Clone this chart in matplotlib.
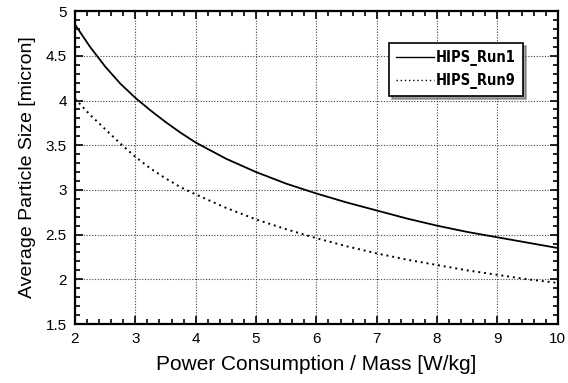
import matplotlib
matplotlib.use('Agg')
import matplotlib.pyplot as plt
from matplotlib.ticker import MultipleLocator, FormatStrFormatter

plt.rcParams['font.family'] = ['Liberation Sans', 'DejaVu Sans']

# Power consumption per unit mass [W/kg]
power = [2.0, 2.25, 2.5, 2.75, 3.0, 3.25, 3.5, 3.75, 4.0, 4.5, 5.0, 5.5, 6.0,
         6.5, 7.0, 7.5, 8.0, 8.5, 9.0, 9.5, 10.0]
# Average particle size [micron]
run1 = [4.85, 4.60, 4.38, 4.19, 4.03, 3.89, 3.76, 3.64, 3.53, 3.35, 3.20, 3.07, 2.96,
        2.86, 2.77, 2.68, 2.60, 2.53, 2.47, 2.41, 2.35]
run9 = [4.02, 3.84, 3.68, 3.52, 3.37, 3.24, 3.13, 3.03, 2.95, 2.80, 2.67, 2.56, 2.46,
        2.37, 2.29, 2.22, 2.16, 2.10, 2.05, 2.00, 1.96]

fig = plt.figure(figsize=(5.68, 3.83), dpi=100)
ax = fig.add_axes([0.132, 0.154, 0.850, 0.817])

ax.plot(power, run1, color='black', linewidth=1.3, linestyle='-', label='HIPS_Run1')
ax.plot(power, run9, color='black', linewidth=1.4, linestyle=(0, (1, 2)), label='HIPS_Run9')

ax.set_xlim(2, 10)
ax.set_ylim(1.5, 5)
ax.xaxis.set_major_locator(MultipleLocator(1))
ax.xaxis.set_minor_locator(MultipleLocator(0.2))
ax.yaxis.set_major_locator(MultipleLocator(0.5))
ax.yaxis.set_minor_locator(MultipleLocator(0.1))
ax.xaxis.set_major_formatter(FormatStrFormatter('%g'))
ax.yaxis.set_major_formatter(FormatStrFormatter('%g'))

ax.tick_params(which='both', direction='in', top=True, right=True, labelsize=11, width=1.2)
ax.tick_params(which='major', length=6, pad=6)
ax.tick_params(which='minor', length=3.5)

ax.grid(True, which='major', color='#444444', linestyle=(0, (1, 1.5)), linewidth=0.8)
for spine in ax.spines.values():
    spine.set_linewidth(1.6)

ax.set_xlabel('Power Consumption / Mass [W/kg]', fontsize=15, labelpad=6)
ax.set_ylabel('Average Particle Size [micron]', fontsize=14, labelpad=7)

leg = ax.legend(loc='upper right', bbox_to_anchor=(0.928, 0.898), borderaxespad=0,
                frameon=True, fancybox=False, shadow=True, handlelength=2.6,
                handletextpad=0.1, borderpad=0.5, labelspacing=0.45,
                prop={'family': 'DejaVu Sans', 'stretch': 'condensed',
                      'weight': 'bold', 'size': 10.5})
leg.get_frame().set_edgecolor('black')
leg.get_frame().set_linewidth(1.2)
for line in leg.get_lines():
    line.set_linewidth(1.0)

fig.savefig('out.png', dpi=100)
